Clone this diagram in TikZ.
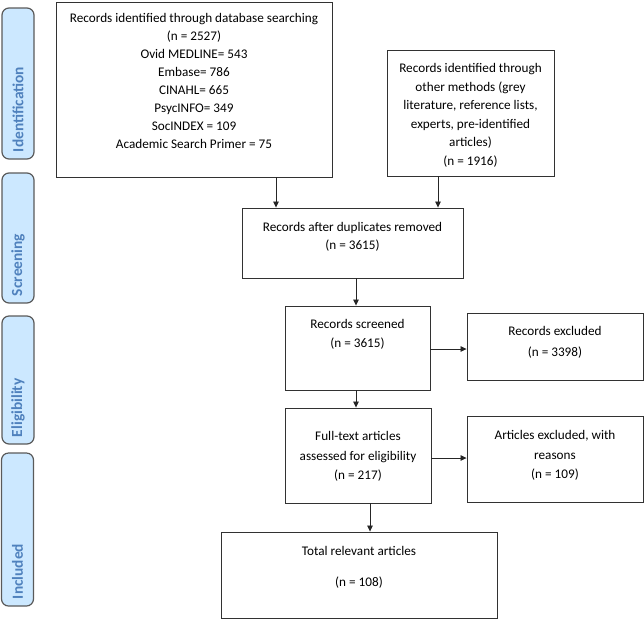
\documentclass[tikz,border=0pt]{standalone}
\usepackage{fontspec}
\setmainfont{Carlito}
\usetikzlibrary{arrows.meta}
\definecolor{lblfill}{RGB}{204,232,255}
\definecolor{lbltext}{RGB}{79,129,189}
\definecolor{lblline}{RGB}{90,90,90}
\definecolor{boxline}{RGB}{50,50,50}
% #1 width, #2 height, #3 first baseline offset, #4 baselineskip, #5 text
\newcommand{\bxt}[5]{\parbox[c][#2][t]{#1}{\centering\fontsize{13.2pt}{#4}\selectfont\rule{0pt}{#3}#5\par}}
\newcommand{\lbt}[2]{\makebox[#1][l]{\hspace*{7pt}\fontsize{15.4pt}{18pt}\selectfont\bfseries #2}}
\tikzset{
  box/.style={draw=boxline, line width=0.9pt, inner sep=0pt, fill=white},
  stage/.style={draw=lblline, line width=1.2pt, fill=lblfill, rounded corners=7pt,
    inner sep=0pt, rotate=90, minimum height=32pt, text=lbltext},
  arr/.style={draw=black!85, line width=0.8pt, -{Triangle[length=6pt,width=5.5pt]}}
}
\begin{document}
\begin{tikzpicture}[x=1pt,y=-1pt]
\useasboundingbox (0,0) rectangle (644,619);
% stage labels
\node[stage] (s1) at (18,83.5) {\lbt{151pt}{Identification}};
\node[stage] (s2) at (18,238) {\lbt{130pt}{Screening}};
\node[stage] (s3) at (18,380) {\lbt{128pt}{Eligibility}};
\node[stage] (s4) at (17.5,529.5) {\lbt{153pt}{Included}};
% boxes
\node[box] (b1) at (194,89.5) {\bxt{276pt}{175pt}{20.5pt}{18pt}{Records identified through database searching\\(n = 2527)\\Ovid MEDLINE= 543\\Embase= 786\\CINAHL= 665\\PsycINFO= 349\\SocINDEX = 109\\Academic Search Primer = 75}};
\node[box] (b2) at (470.5,113) {\bxt{167pt}{126pt}{22.5pt}{18.6pt}{Records identified through\\other methods (grey\\literature, reference lists,\\experts, pre-identified\\articles)\\(n = 1916)}};
\node[box] (b3) at (352.5,243) {\bxt{221pt}{70pt}{23.5pt}{18pt}{Records after duplicates removed\\(n = 3615)}};
\node[box] (b4) at (357.5,348) {\bxt{145pt}{84pt}{22.5pt}{19pt}{Records screened\\(n = 3615)}};
\node[box] (b5) at (555,346.5) {\bxt{176pt}{67pt}{22.5pt}{21pt}{Records excluded\\(n = 3398)}};
\node[box] (b6) at (358,455.5) {\bxt{146pt}{95pt}{32.5pt}{19.5pt}{Full-text articles\\assessed for eligibility\\(n = 217)}};
\node[box] (b7) at (555,459) {\bxt{176pt}{86pt}{23.5pt}{19.5pt}{Articles excluded, with\\reasons\\(n = 109)}};
\node[box] (b8) at (359,575) {\bxt{276pt}{86pt}{23.5pt}{31pt}{Total relevant articles\\(n = 108)}};
% connector guides
\coordinate (x1) at (276,0);
\coordinate (x2) at (438,0);
\coordinate (x3) at (356,0);
\coordinate (x4) at (370,0);
\coordinate (y1) at (0,349);
\coordinate (y2) at (0,458);
% connectors
\draw[arr] (b1.south -| x1) -- (b3.north -| x1);
\draw[arr] (b2.south -| x2) -- (b3.north -| x2);
\draw[arr] (b3.south -| x3) -- (b4.north -| x3);
\draw[arr] (b4.east |- y1) -- (b5.west |- y1);
\draw[arr] (b4.south -| x3) -- (b6.north -| x3);
\draw[arr] (b6.east |- y2) -- (b7.west |- y2);
\draw[arr] (b6.south -| x4) -- (b8.north -| x4);
\end{tikzpicture}
\end{document}
